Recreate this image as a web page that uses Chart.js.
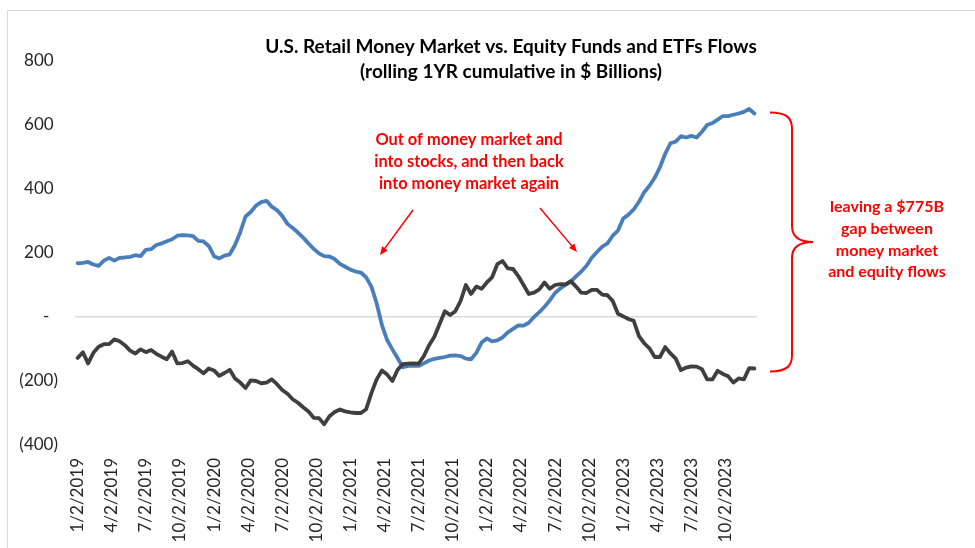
<!DOCTYPE html>
<html>
<head>
<meta charset="utf-8">
<script src="https://cdn.jsdelivr.net/npm/chart.js@4.4.1/dist/chart.umd.min.js"></script>
<style>
  html, body { margin: 0; padding: 0; background: #fff; overflow: hidden; }
  #wrap { position: relative; width: 975px; height: 548px; overflow: hidden; }
  #frame { position: absolute; left: 7px; top: 10px; width: 1000px; height: 600px; border: 1px solid #d9d9d9; }
  canvas { position: absolute; left: 0; top: 0; }
</style>
</head>
<body>
<div id="wrap">
  <div id="frame"></div>
  <canvas id="chart" width="975" height="548"></canvas>
</div>
<script>
// rolling 1yr cumulative flows, $B, one value every 2 weeks from 1/2/2019
const moneyMarket = [
  168, 169, 172, 164, 160, 176, 185, 176, 185, 186,
  188, 193, 190, 210, 212, 225, 230, 237, 243, 254,
  256, 255, 253, 238, 236, 222, 190, 183, 192, 196,
  225, 265, 314, 328, 348, 359, 363, 345, 334, 316,
  291, 278, 264, 248, 230, 213, 199, 190, 189, 181,
  166, 157, 148, 142, 139, 124, 95, 43, -25, -72,
  -101, -129, -157, -153, -152, -153, -145, -136, -131, -128,
  -125, -121, -120, -122, -130, -132, -112, -80, -67, -76,
  -73, -64, -48, -37, -26, -27, -18, 0, 15, 32,
  52, 75, 89, 100, 110, 127, 142, 160, 185, 203,
  220, 230, 254, 270, 308, 320, 336, 360, 390, 410,
  435, 468, 510, 543, 548, 565, 561, 566, 561, 579,
  600, 606, 617, 628, 628, 632, 636, 641, 650, 636
];

const equityFlows = [
  -128, -110, -145, -112, -93, -85, -85, -70, -76, -88,
  -105, -114, -101, -110, -103, -115, -124, -132, -108, -145,
  -144, -138, -152, -163, -176, -161, -167, -184, -175, -165,
  -192, -205, -222, -198, -200, -207, -205, -195, -210, -228,
  -240, -257, -268, -282, -295, -315, -316, -335, -310, -297,
  -289, -295, -298, -300, -300, -288, -238, -195, -167, -180,
  -200, -165, -147, -146, -145, -146, -122, -88, -62, -22,
  18, 6, 18, 50, 100, 72, 95, 88, 108, 124,
  165, 175, 152, 150, 128, 100, 72, 76, 86, 108,
  88, 100, 103, 102, 112, 95, 76, 75, 85, 85,
  70, 68, 50, 10, 2, -6, -12, -60, -82, -98,
  -125, -125, -94, -114, -130, -166, -158, -154, -155, -163,
  -195, -195, -168, -178, -185, -205, -192, -195, -160, -161
];

// x position = week number since 1/2/2019
const weeks = moneyMarket.map((_, i) => i * 2);

const quarterLabels = [
  '1/2/2019', '4/2/2019', '7/2/2019', '10/2/2019',
  '1/2/2020', '4/2/2020', '7/2/2020', '10/2/2020',
  '1/2/2021', '4/2/2021', '7/2/2021', '10/2/2021',
  '1/2/2022', '4/2/2022', '7/2/2022', '10/2/2022',
  '1/2/2023', '4/2/2023', '7/2/2023', '10/2/2023'
];
const WEEKS_PER_QUARTER = 13;

const titleLines = [
  'U.S. Retail Money Market vs. Equity Funds and ETFs Flows',
  '(rolling 1YR cumulative in $ Billions)'
];
const noteLeft = ['Out of money market and', 'into stocks, and then back', 'into money market again'];
const noteRight = ['leaving a $775B', 'gap between', 'money market', 'and equity flows'];

const RED = '#ff0000';
const TEXT = '#262626';
const FONT = 'Lato';

const toPoints = (values) => values.map((v, i) => ({ x: weeks[i], y: v }));

const formatAccounting = (v) => {
  if (v === 0) return '-  ';
  return v < 0 ? `(${-v})` : `${v} `;
};

const drawArrow = (ctx, x1, y1, x2, y2) => {
  const angle = Math.atan2(y2 - y1, x2 - x1);
  const head = 9;
  ctx.beginPath();
  ctx.moveTo(x1, y1);
  ctx.lineTo(x2 - Math.cos(angle) * head * 0.6, y2 - Math.sin(angle) * head * 0.6);
  ctx.stroke();
  ctx.beginPath();
  ctx.moveTo(x2, y2);
  ctx.lineTo(x2 - head * Math.cos(angle - 0.4), y2 - head * Math.sin(angle - 0.4));
  ctx.lineTo(x2 - head * Math.cos(angle + 0.4), y2 - head * Math.sin(angle + 0.4));
  ctx.closePath();
  ctx.fill();
};

const drawBrace = (ctx, x, top, bottom) => {
  const mid = (top + bottom) / 2;
  const arm = 22, tip = 43, r = 16;
  ctx.beginPath();
  ctx.moveTo(x, top);
  ctx.bezierCurveTo(x + arm * 0.8, top, x + arm, top + r * 0.4, x + arm, top + r);
  ctx.lineTo(x + arm, mid - r);
  ctx.bezierCurveTo(x + arm, mid - r * 0.3, x + arm + 8, mid, x + tip, mid);
  ctx.bezierCurveTo(x + arm + 8, mid, x + arm, mid + r * 0.3, x + arm, mid + r);
  ctx.lineTo(x + arm, bottom - r);
  ctx.bezierCurveTo(x + arm, bottom - r * 0.4, x + arm * 0.8, bottom, x, bottom);
  ctx.stroke();
};

const annotations = {
  id: 'annotations',
  afterDraw(chart) {
    const { ctx, scales: { y } } = chart;
    ctx.save();
    ctx.textAlign = 'center';
    ctx.textBaseline = 'middle';

    ctx.fillStyle = '#000';
    ctx.font = `bold 19px ${FONT}`;
    titleLines.forEach((t, i) => ctx.fillText(t, 511, 47 + i * 25));

    ctx.fillStyle = RED;
    ctx.strokeStyle = RED;
    ctx.font = `bold 16.4px ${FONT}`;
    noteLeft.forEach((t, i) => ctx.fillText(t, 469, 140 + i * 22));
    ctx.font = `bold 16px ${FONT}`;
    noteRight.forEach((t, i) => ctx.fillText(t, 887, 207 + i * 21.7));

    ctx.lineWidth = 1.5;
    drawArrow(ctx, 413, 210, 380, 255);
    drawArrow(ctx, 540, 208, 577, 252);

    ctx.lineWidth = 2;
    drawBrace(ctx, 770,
      y.getPixelForValue(moneyMarket.at(-1)) - 1,
      y.getPixelForValue(equityFlows.at(-1)) + 3);
    ctx.restore();
  }
};

new Chart(document.getElementById('chart'), {
  type: 'line',
  data: {
    datasets: [
      {
        label: 'Retail Money Market',
        data: toPoints(moneyMarket),
        borderColor: '#4a7ebb',
        borderWidth: 3.8,
        order: 1
      },
      {
        label: 'Equity Funds and ETFs',
        data: toPoints(equityFlows),
        borderColor: '#3f3f3f',
        borderWidth: 3.8,
        order: 0
      }
    ]
  },
  options: {
    responsive: false,
    animation: false,
    layout: { padding: { top: 61, right: 218, bottom: 0, left: 0 } },
    elements: {
      point: { radius: 0 },
      line: { tension: 0, borderJoinStyle: 'round', borderCapStyle: 'round' }
    },
    plugins: {
      legend: { display: false },
      tooltip: { enabled: false }
    },
    scales: {
      x: {
        type: 'linear',
        min: -1,
        max: 259,
        grid: { display: false, drawTicks: false },
        border: { display: false },
        afterBuildTicks: (scale) => {
          scale.ticks = quarterLabels.map((_, i) => ({ value: i * WEEKS_PER_QUARTER }));
        },
        afterFit: (scale) => { scale.height = 103; },
        ticks: {
          autoSkip: false,
          minRotation: 90,
          maxRotation: 90,
          padding: 13,
          color: TEXT,
          font: { family: FONT, size: 17 },
          callback: (v) => quarterLabels[Math.round(v / WEEKS_PER_QUARTER)]
        }
      },
      y: {
        min: -400,
        max: 800,
        grid: {
          drawTicks: false,
          lineWidth: 1.5,
          color: (c) => (c.tick && c.tick.value === 0 ? '#d9d9d9' : 'transparent')
        },
        border: { display: false },
        afterFit: (scale) => { scale.width = 75; },
        ticks: {
          stepSize: 200,
          padding: 17,
          color: TEXT,
          font: { family: FONT, size: 17 },
          callback: formatAccounting
        }
      }
    }
  },
  plugins: [annotations]
});
</script>
</body>
</html>
